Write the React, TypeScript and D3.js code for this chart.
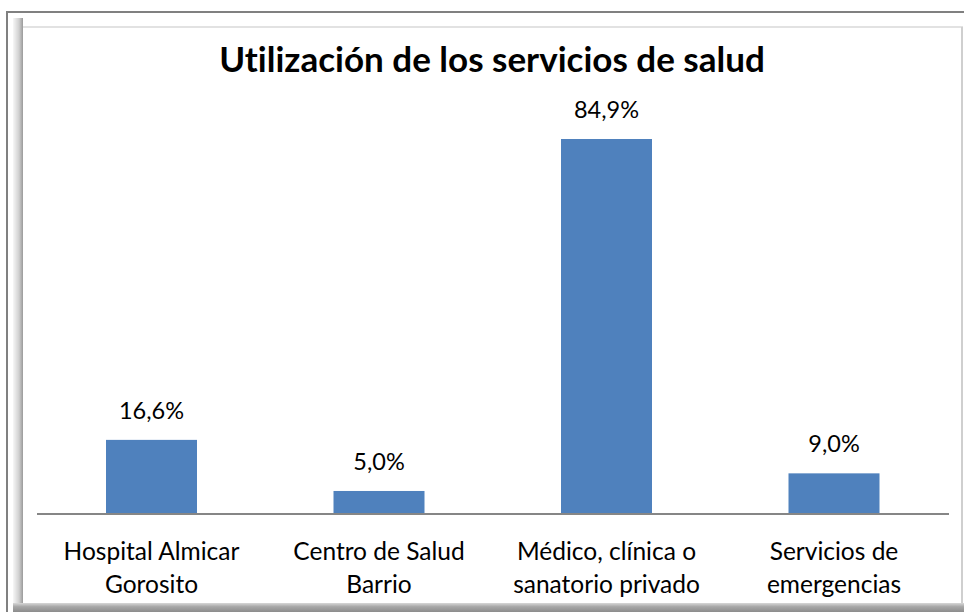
import React from "react";
import * as d3 from "d3";

const categories: string[][] = [
  ["Hospital Almicar", "Gorosito"],
  ["Centro de Salud", "Barrio"],
  ["Médico, clínica o", "sanatorio privado"],
  ["Servicios de", "emergencias"],
];
const values: number[] = [16.6, 5.0, 84.9, 9.0];
const valueLabels: string[] = ["16,6%", "5,0%", "84,9%", "9,0%"];
const title = "Utilización de los servicios de salud";

const W = 964;
const H = 612;
const FONT = "Lato, Calibri, Carlito, sans-serif";
const noLig = { fontVariantLigatures: "none", fontFeatureSettings: '"liga" 0' } as React.CSSProperties;

export default function App() {
  const x = d3
    .scaleBand<number>()
    .domain(d3.range(values.length))
    .range([37.75, 947.75])
    .paddingInner(0.6)
    .paddingOuter(0.3);
  const baseY = 513;
  const y = d3.scaleLinear().domain([0, 84.9]).range([baseY, 139]);

  return (
    <div>
      <style>{"body{margin:0}"}</style>
      <svg width={W} height={H} style={{ display: "block", background: "#fff" }}>
        <defs>
          <linearGradient id="lgL" x1="0" x2="1" y1="0" y2="0">
            <stop offset="0" stopColor="#f7f7f7" />
            <stop offset="0.6" stopColor="#d0d0d0" />
            <stop offset="1" stopColor="#9a9a9a" />
          </linearGradient>
          <linearGradient id="lgB" x1="0" x2="0" y1="0" y2="1">
            <stop offset="0" stopColor="#d8d8d8" />
            <stop offset="0.4" stopColor="#a8a8a8" />
            <stop offset="1" stopColor="#8c8c8c" />
          </linearGradient>
        </defs>
        {/* outer frame */}
        <line x1={7} x2={7} y1={11} y2={H} stroke="#808080" strokeWidth={2} />
        <line x1={6} x2={W} y1={12} y2={12} stroke="#808080" strokeWidth={2} />
        {/* shadows */}
        <rect x={13} y={18} width={10} height={585} fill="url(#lgL)" />
        <rect x={13} y={603} width={W - 13} height={9} fill="url(#lgB)" />
        <line x1={23} x2={963} y1={27} y2={27} stroke="#d9d9d9" strokeWidth={1.5} />
        <line x1={962} x2={962} y1={27} y2={603} stroke="#cfcfcf" strokeWidth={2} />

        <text
          x={492}
          y={72}
          textAnchor="middle"
          fontFamily={FONT}
          fontWeight="bold"
          fontSize={35}
          fill="#000"
          style={noLig}
        >
          {title}
        </text>

        {values.map((v, i) => (
          <rect
            key={"b" + i}
            x={x(i)}
            y={y(v)}
            width={x.bandwidth()}
            height={baseY - y(v)}
            fill="#4F81BD"
          />
        ))}

        <line x1={37} x2={949} y1={baseY + 1} y2={baseY + 1} stroke="#868686" strokeWidth={2} />

        {values.map((v, i) => (
          <text
            key={"v" + i}
            x={(x(i) as number) + x.bandwidth() / 2}
            y={y(v) - 21}
            textAnchor="middle"
            fontFamily={FONT}
            fontSize={23.5}
            fill="#000"
            style={noLig}
          >
            {valueLabels[i]}
          </text>
        ))}

        {categories.map((lines, i) => (
          <text
            key={"c" + i}
            x={(x(i) as number) + x.bandwidth() / 2}
            y={559.5}
            textAnchor="middle"
            fontFamily={FONT}
            fontSize={24.5}
            fill="#000"
            style={noLig}
          >
            {lines.map((l, j) => (
              <tspan key={j} x={(x(i) as number) + x.bandwidth() / 2} dy={j === 0 ? 0 : 33}>
                {l}
              </tspan>
            ))}
          </text>
        ))}
      </svg>
    </div>
  );
}
